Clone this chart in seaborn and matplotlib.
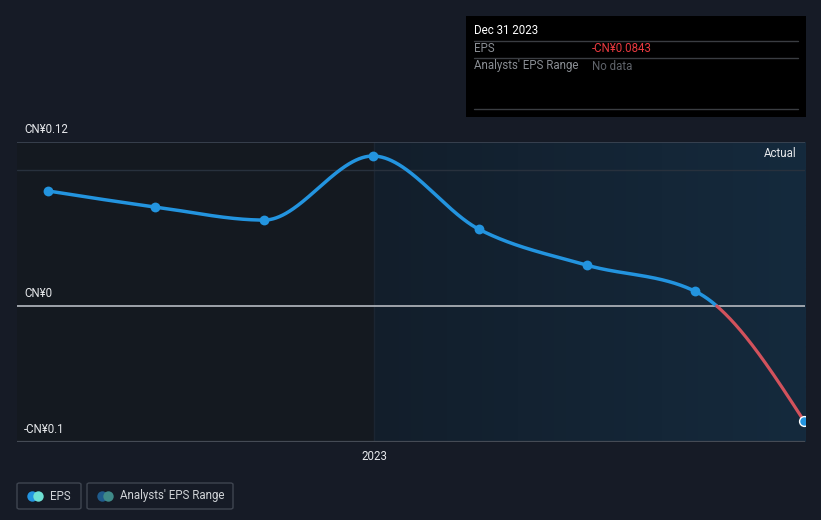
import numpy as np
import pandas as pd
import matplotlib
matplotlib.use("Agg")
import matplotlib.pyplot as plt
import matplotlib.dates as mdates
from matplotlib.patches import Rectangle, FancyBboxPatch
from matplotlib.lines import Line2D
from matplotlib.colors import LinearSegmentedColormap
import seaborn as sns

# ---- data ----
dates = ["2022-03-31", "2022-06-30", "2022-09-30", "2022-12-31",
         "2023-03-31", "2023-06-30", "2023-09-30", "2023-12-31"]
eps = [0.0846, 0.0728, 0.0632, 0.1103, 0.0564, 0.0301, 0.0108, -0.0843]
ytick_vals = [0.12, 0.0, -0.1]
ytick_labels = ["CN¥0.12", "CN¥0", "-CN¥0.1"]
xtick_label = "2023"

sns.set_theme(style="dark")
plt.rcParams['font.family'] = ['Roboto', 'DejaVu Sans']

BG = "#161b26"
BLUE = "#2394df"
RED = "#d2525c"

fig = plt.figure(figsize=(8.21, 5.2), dpi=100, facecolor=BG)
ax = fig.add_axes([17/821, 1-442/520, 788/821, 300/520])
ax.set_facecolor("#141920")

d = pd.to_datetime(dates)
xn = mdates.date2num(d)
y = np.array(eps)

# monotone cubic (d3 monotoneX style) for drawing the smooth line
def monotone(x, y, n=60):
    m = len(x)
    h = np.diff(x); s = np.diff(y) / h
    t = np.zeros(m)
    for i in range(1, m-1):
        p = (s[i-1]*h[i] + s[i]*h[i-1]) / (h[i-1]+h[i])
        t[i] = (np.sign(s[i-1]) + np.sign(s[i])) * min(abs(s[i-1]), abs(s[i]), 0.5*abs(p))
    t[0] = (3*s[0] - t[1]) / 2
    t[-1] = (3*s[-1] - t[-2]) / 2
    xs, ys = [], []
    for i in range(m-1):
        u = np.linspace(0, 1, n, endpoint=(i == m-2))
        h00 = 2*u**3 - 3*u**2 + 1; h10 = u**3 - 2*u**2 + u
        h01 = -2*u**3 + 3*u**2; h11 = u**3 - u**2
        xs.append(x[i] + u*h[i])
        ys.append(h00*y[i] + h10*h[i]*t[i] + h01*y[i+1] + h11*h[i]*t[i+1])
    return np.concatenate(xs), np.concatenate(ys)

cx, cy = monotone(xn, y, 200)

xmin = xn[0] - (48-17) / (431/365)
xmax = xn[-1] + 1
x2023 = mdates.date2num(pd.Timestamp("2023-01-01"))
YTOP = 0.1206
ax.set_xlim(xmin, xmax)
ax.set_ylim(-0.1, YTOP)

# right-hand region gradient
grad = np.linspace(0, 1, 256).reshape(1, -1)
cmap = LinearSegmentedColormap.from_list("g", ["#121e2b", "#152a3d"])
ax.imshow(grad, extent=[x2023, xmax, -0.1, YTOP], aspect="auto", cmap=cmap, zorder=0)
ax.axvline(x2023, color="#1b2532", lw=1, zorder=1)

# grid lines
ax.axhline(YTOP, color="#3e4654", lw=1.2, zorder=1)
ax.axhline(0.1, color="#28313d", lw=1, zorder=1)
ax.axhline(0.0, color="#a9aeb5", lw=1.3, zorder=2)
ax.axhline(-0.1, color="#454b55", lw=1.6, zorder=1)

# line split into positive (blue) and negative (red)
zi = np.where((cy[:-1] >= 0) & (cy[1:] < 0))[0]
k = zi[0]
xz = cx[k] + (cx[k+1]-cx[k]) * cy[k] / (cy[k]-cy[k+1])
pos = pd.DataFrame({"x": np.append(cx[:k+1], xz), "y": np.append(cy[:k+1], 0.0)})
neg = pd.DataFrame({"x": np.insert(cx[k+1:], 0, xz), "y": np.insert(cy[k+1:], 0, 0.0)})
sns.lineplot(data=pos, x="x", y="y", ax=ax, color=BLUE, lw=2.5, sort=False, estimator=None, zorder=3)
sns.lineplot(data=neg, x="x", y="y", ax=ax, color=RED, lw=2.3, sort=False, estimator=None, zorder=3)

pts = pd.DataFrame({"x": xn[:-1], "y": y[:-1]})
sns.scatterplot(data=pts, x="x", y="y", ax=ax, color=BLUE, s=50, edgecolor=BLUE, linewidth=0, zorder=4, clip_on=False)
last = pd.DataFrame({"x": xn[-1:], "y": y[-1:]})
sns.scatterplot(data=last, x="x", y="y", ax=ax, color=BLUE, s=50, edgecolor="white", linewidth=1, zorder=5, clip_on=True)

# axes styling
for sp in ax.spines.values():
    sp.set_visible(False)
ax.set_xlabel(""); ax.set_ylabel("")
ax.set_yticks([])
ax.set_xticks([x2023])
ax.set_xticklabels([xtick_label], color="#e6e8eb", fontsize=8.3)
ax.tick_params(axis="x", length=4, width=1, color="#454b55", pad=2)
ax.grid(False)

for v, lab in zip(ytick_vals, ytick_labels):
    yy = YTOP if v == 0.12 else v
    ax.annotate(lab, xy=(0, yy), xycoords=("axes fraction", "data"),
                xytext=(5, 4.5), textcoords="offset points", fontsize=8.3,
                color="#e6e8eb", va="bottom", ha="left")

ax.annotate("Actual", xy=(1, 0.1118), xycoords=("axes fraction", "data"),
            xytext=(-6, 0), textcoords="offset points",
            fontsize=8.3, color="#e6e8eb", ha="right", va="center")

# tooltip box
def fx(px): return px/821
def fy(py): return 1-py/520
fig.patches.append(Rectangle((fx(466), fy(117)), 340/821, 101/520, transform=fig.transFigure,
                             facecolor="#000000", edgecolor="none", zorder=10))
fig.text(fx(474), fy(31), "Dec 31 2023", color="#ffffff", fontsize=8.3, va="center", ha="left", zorder=11)
for ly in (41, 58, 109):
    fig.add_artist(Line2D([fx(474), fx(798)], [fy(ly), fy(ly)], color="#3a3d42", lw=1, zorder=11))
fig.text(fx(474), fy(49), "EPS", color="#8a8e94", fontsize=8.3, va="center", ha="left", zorder=11)
fig.text(fx(592), fy(49), "-CN¥0.0843", color="#e8393f", fontsize=8.3, va="center", ha="left", zorder=11)
fig.text(fx(474), fy(66), "Analysts' EPS Range", color="#8a8e94", fontsize=8.3, va="center", ha="left", zorder=11)
fig.text(fx(592), fy(66), "No data", color="#5f636a", fontsize=8.3, va="center", ha="left", zorder=11)

# legend boxes
def box(x0, x1):
    fig.patches.append(FancyBboxPatch((fx(x0), fy(509)), (x1-x0)/821, 26/520, transform=fig.transFigure,
                       boxstyle="round,pad=0,rounding_size=0.003", facecolor="none",
                       edgecolor="#3f4550", lw=1, zorder=10))
box(17, 81)
box(87, 233)
def dot(px, col):
    fig.add_artist(Line2D([fx(px)], [fy(496)], marker="o", markersize=7.5, color=col,
                          markeredgewidth=0, zorder=11))
dot(32, BLUE); dot(38, "#6ee0d3")
dot(102, "#1f5b8c"); dot(108, "#3f8a88")
fig.text(fx(50), fy(496), "EPS", color="#d0d3d7", fontsize=8.3, va="center", ha="left")
fig.text(fx(120), fy(496), "Analysts' EPS Range", color="#d0d3d7", fontsize=8.3, va="center", ha="left")

fig.savefig("out.png", dpi=100, facecolor=BG)
